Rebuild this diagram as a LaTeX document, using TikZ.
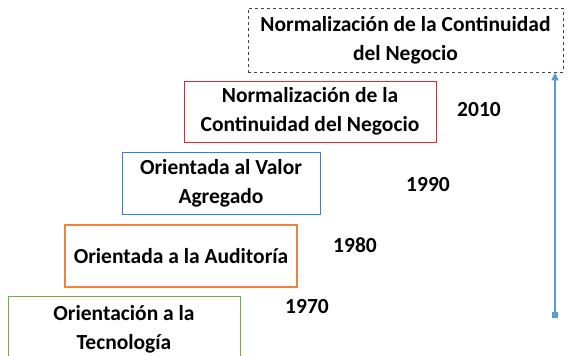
\documentclass[tikz,border=0pt]{standalone}
\usepackage{fontspec}
\setmainfont{Carlito}
\usetikzlibrary{arrows.meta}
\definecolor{stagered}{RGB}{224,40,46}
\definecolor{stageblue}{RGB}{47,128,216}
\definecolor{stageorange}{RGB}{240,130,60}
\definecolor{stagegreen}{RGB}{112,173,71}
\definecolor{arrowblue}{RGB}{91,155,213}
\begin{document}
\begin{tikzpicture}[x=1pt,y=-1pt,
  stage/.style={draw,line width=1pt,inner sep=0pt,align=center,
    font=\bfseries\fontsize{21.5}{29}\selectfont},
  yearlbl/.style={inner sep=0pt,font=\bfseries\fontsize{21.5}{24}\selectfont}]
\useasboundingbox (0,0) rectangle (568,356);
\node[stage,draw=black!75,dashed,line width=0.7pt,minimum width=315pt,minimum height=64pt] (top) at (405.5,40) {Normalización de la Continuidad\\del Negocio};
\node[stage,draw=stagered,minimum width=252pt,minimum height=61pt] (red) at (310,111.5) {Normalización de la\\Continuidad del Negocio};
\node[stage,draw=stageblue,minimum width=198pt,minimum height=62pt] (blue) at (221,183) {Orientada al Valor\\Agregado};
\node[stage,draw=stageorange,line width=1.2pt,minimum width=232pt,minimum height=62pt] (orange) at (181,256) {Orientada a la Auditoría};
\node[stage,draw=stagegreen,minimum width=232pt,minimum height=66pt] (green) at (124,329) {Orientación a la\\Tecnología};
\node[yearlbl] (y2010) at (479,110) {2010};
\node[yearlbl] (y1990) at (428,185) {1990};
\node[yearlbl] (y1980) at (355,245) {1980};
\node[yearlbl] (y1970) at (307,307) {1970};
\coordinate (astart) at (555,318);
\draw[arrowblue,line width=1.2pt,{Square[length=6pt,width=6pt]}-{Triangle[length=8pt,width=7pt]}] (astart) -- (astart |- top.south);
\end{tikzpicture}
\end{document}
